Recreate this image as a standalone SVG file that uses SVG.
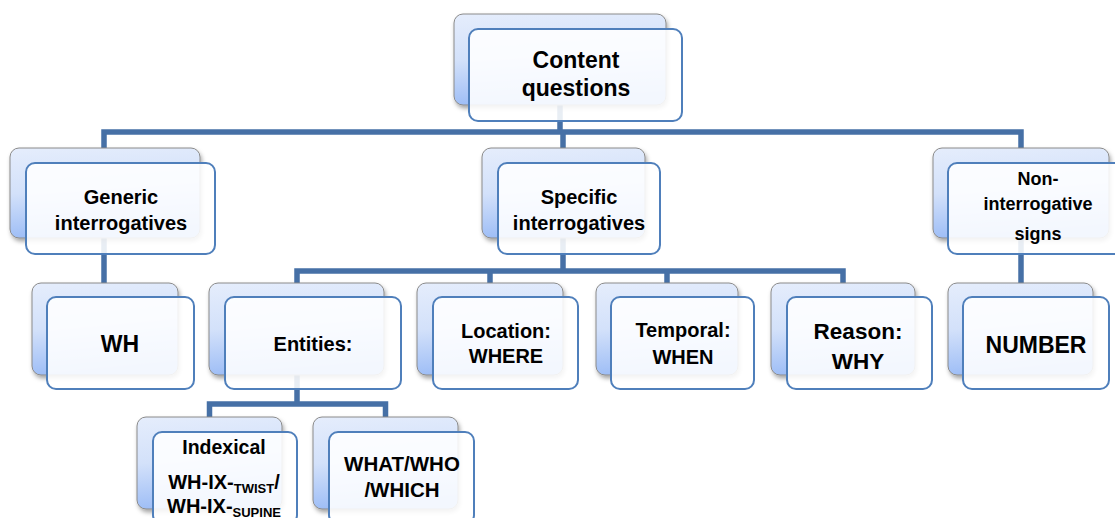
<svg xmlns="http://www.w3.org/2000/svg" width="1115" height="518" viewBox="0 0 1115 518">
  <style>
    .back { fill: url(#backFill); stroke: #8a8a8a; stroke-width: 1; filter: url(#shadow); }
    .front { fill: #ffffff; fill-opacity: 0.88; stroke: #4f7fbb; stroke-width: 2; }
    .link { fill: none; stroke: #4670a6; stroke-width: 5.5; stroke-linejoin: miter; }
    text { font-family: "Liberation Sans", Arial, sans-serif; font-weight: bold; fill: #000; text-anchor: middle; }
  </style>
  <defs>
    <linearGradient id="backFill" x1="0" y1="0" x2="0.15" y2="1">
      <stop offset="0" stop-color="#e5edfc"/>
      <stop offset="0.5" stop-color="#d3e1fa"/>
      <stop offset="1" stop-color="#9dbdf6"/>
    </linearGradient>
    <filter id="shadow" x="-10%" y="-10%" width="125%" height="130%">
      <feDropShadow dx="1.5" dy="3" stdDeviation="2" flood-color="#000" flood-opacity="0.35"/>
    </filter>
  </defs>

  <!-- connectors, drawn beneath the boxes -->
  <g id="connectors">
    <path class="link" d="M560 105 V132"/>
    <path class="link" d="M104 148 V132 H1021 V148"/>
    <path class="link" d="M563 132 V148"/>
    <path class="link" d="M104 238 V283"/>
    <path class="link" d="M1021 238 V283"/>
    <path class="link" d="M563 238 V271"/>
    <path class="link" d="M297 283 V271 H843 V283"/>
    <path class="link" d="M490 271 V283"/>
    <path class="link" d="M667 271 V283"/>
    <path class="link" d="M297 375 V404"/>
    <path class="link" d="M209.5 417 V404 H385.5 V417"/>
  </g>

  <g id="content-questions">
    <rect class="back" x="454" y="14" width="212" height="91" rx="9"/>
    <rect class="front" x="469" y="29" width="213" height="92" rx="9"/>
    <text x="576" y="68" font-size="23">Content</text>
    <text x="576" y="96" font-size="23">questions</text>
  </g>

  <g id="generic">
    <rect class="back" x="10" y="148" width="190" height="90" rx="9"/>
    <rect class="front" x="26" y="163" width="189" height="91" rx="9"/>
    <text x="121" y="204" font-size="20">Generic</text>
    <text x="121" y="230" font-size="20">interrogatives</text>
  </g>

  <g id="specific">
    <rect class="back" x="482" y="148" width="163" height="90" rx="9"/>
    <rect class="front" x="498" y="163" width="162" height="91" rx="9"/>
    <text x="579" y="204" font-size="20">Specific</text>
    <text x="579" y="230" font-size="20">interrogatives</text>
  </g>

  <g id="non-interrogative">
    <rect class="back" x="933" y="148" width="176" height="90" rx="9"/>
    <rect class="front" x="948" y="163" width="176" height="91" rx="9"/>
    <text x="1038" y="185" font-size="18">Non-</text>
    <text x="1038" y="210" font-size="18">interrogative</text>
    <text x="1038" y="240" font-size="18">signs</text>
  </g>

  <g id="wh">
    <rect class="back" x="32" y="283" width="146" height="92" rx="9"/>
    <rect class="front" x="47" y="297" width="147" height="92" rx="9"/>
    <text x="120" y="352" font-size="23">WH</text>
  </g>

  <g id="entities">
    <rect class="back" x="209" y="283" width="175" height="92" rx="9"/>
    <rect class="front" x="225" y="297" width="176" height="92" rx="9"/>
    <text x="313" y="351" font-size="20">Entities:</text>
  </g>

  <g id="location">
    <rect class="back" x="417" y="283" width="146" height="92" rx="9"/>
    <rect class="front" x="433" y="297" width="145" height="92" rx="9"/>
    <text x="506" y="338" font-size="20">Location:</text>
    <text x="506" y="363" font-size="20">WHERE</text>
  </g>

  <g id="temporal">
    <rect class="back" x="596" y="283" width="142" height="92" rx="9"/>
    <rect class="front" x="611" y="297" width="143" height="92" rx="9"/>
    <text x="683" y="337" font-size="20">Temporal:</text>
    <text x="683" y="364" font-size="20">WHEN</text>
  </g>

  <g id="reason">
    <rect class="back" x="771" y="283" width="144" height="92" rx="9"/>
    <rect class="front" x="787" y="297" width="145" height="92" rx="9"/>
    <text x="858" y="339" font-size="22.5">Reason:</text>
    <text x="858" y="369" font-size="22.5">WHY</text>
  </g>

  <g id="number">
    <rect class="back" x="948" y="283" width="145" height="92" rx="9"/>
    <rect class="front" x="963" y="297" width="146" height="92" rx="9"/>
    <text x="1036" y="353" font-size="23">NUMBER</text>
  </g>

  <g id="indexical">
    <rect class="back" x="137" y="417" width="145" height="92" rx="9"/>
    <rect class="front" x="153" y="432" width="144" height="92" rx="9"/>
    <text x="224" y="454" font-size="19.5">Indexical</text>
    <text x="224" y="489" font-size="20">WH-IX-<tspan font-size="13" dy="4">TWIST</tspan><tspan dy="-4">/</tspan></text>
    <text x="224" y="513" font-size="20">WH-IX-<tspan font-size="13" dy="4">SUPINE</tspan></text>
  </g>

  <g id="what-who-which">
    <rect class="back" x="313" y="417" width="145" height="92" rx="9"/>
    <rect class="front" x="329" y="432" width="145" height="92" rx="9"/>
    <text x="402" y="471" font-size="20.5">WHAT/WHO</text>
    <text x="402" y="497" font-size="20.5">/WHICH</text>
  </g>
</svg>
